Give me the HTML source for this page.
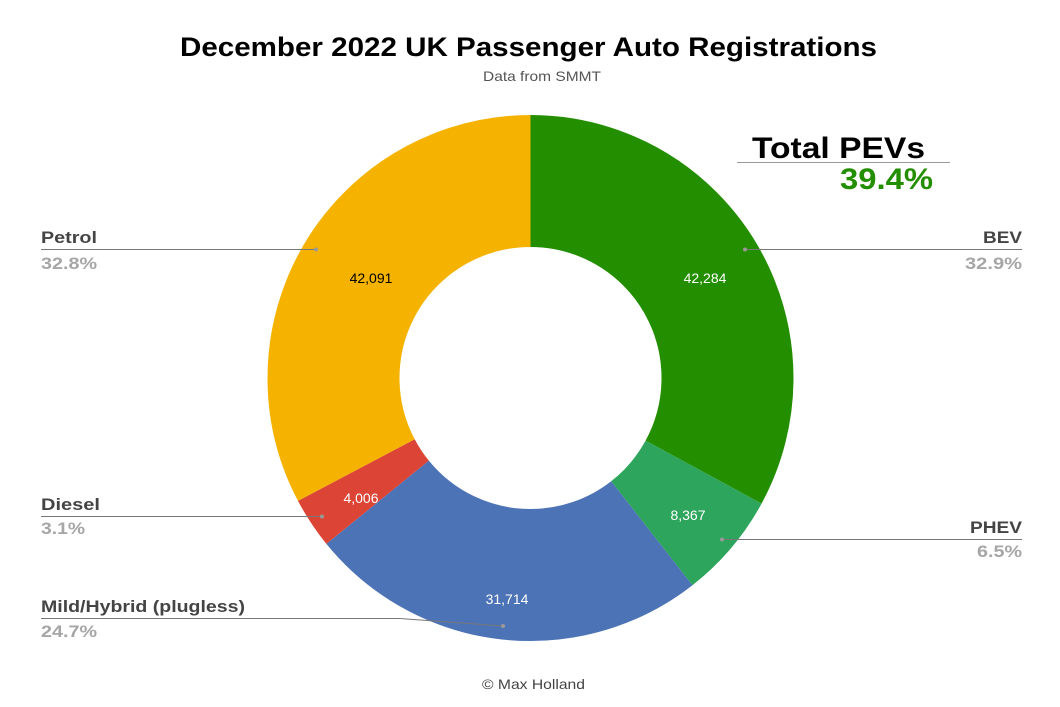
<!DOCTYPE html>
<html><head><style>
html,body{margin:0;padding:0;background:#fff;}
svg{display:block;font-family:"Liberation Sans",Arial,sans-serif;}
.n{font-weight:bold;font-size:17px;fill:#444;}
.p{font-weight:bold;font-size:17px;fill:#a6a6a6;}
.v{font-size:14px;fill:#fff;}
</style></head><body>
<svg width="1060" height="707" viewBox="0 0 1060 707">
<rect width="1060" height="707" fill="#fff"/>
<text x="180" y="56" font-size="27" font-weight="bold" fill="#000" textLength="697" lengthAdjust="spacingAndGlyphs">December 2022 UK Passenger Auto Registrations</text>
<text x="483" y="81" font-size="14" fill="#555" textLength="118" lengthAdjust="spacingAndGlyphs">Data from SMMT</text>
<g transform="rotate(-90 530.5 378)">
<circle cx="530.5" cy="378" r="197" fill="none" stroke="#238f00" stroke-width="132" stroke-dasharray="407.4 2000" stroke-dashoffset="0"/>
<circle cx="530.5" cy="378" r="197" fill="none" stroke="#2ea55c" stroke-width="132" stroke-dasharray="80.6 2000" stroke-dashoffset="-407.4"/>
<circle cx="530.5" cy="378" r="197" fill="none" stroke="#4c73b5" stroke-width="132" stroke-dasharray="305.6 2000" stroke-dashoffset="-488"/>
<circle cx="530.5" cy="378" r="197" fill="none" stroke="#dc4436" stroke-width="132" stroke-dasharray="38.6 2000" stroke-dashoffset="-793.6"/>
<circle cx="530.5" cy="378" r="197" fill="none" stroke="#f5b300" stroke-width="132" stroke-dasharray="405.6 2000" stroke-dashoffset="-832.2"/>
</g>
<text x="371" y="283" text-anchor="middle" font-size="14" fill="#000">42,091</text>
<text x="705" y="283" text-anchor="middle" class="v">42,284</text>
<text x="688" y="520" text-anchor="middle" class="v">8,367</text>
<text x="361" y="503" text-anchor="middle" class="v">4,006</text>
<text x="507" y="604" text-anchor="middle" class="v">31,714</text>
<g stroke="#777" stroke-width="1" fill="none">
<line x1="41" y1="249.5" x2="316" y2="249.5"/>
<line x1="41" y1="516.5" x2="322" y2="516.5"/>
<polyline points="41,618.5 400,618.5 503,626"/>
<line x1="745" y1="249.5" x2="1022" y2="249.5"/>
<line x1="722" y1="539.5" x2="1022" y2="539.5"/>
<line x1="737" y1="162.5" x2="950" y2="162.5" stroke="#999"/>
</g>
<g fill="#999"><circle cx="316" cy="249.5" r="2"/><circle cx="322" cy="516.5" r="2"/><circle cx="503" cy="626" r="2"/><circle cx="745" cy="249.5" r="2"/><circle cx="722" cy="539.5" r="2"/></g>
<text x="41" y="243" class="n" textLength="56" lengthAdjust="spacingAndGlyphs">Petrol</text><text x="41" y="269" class="p" textLength="56" lengthAdjust="spacingAndGlyphs">32.8%</text>
<text x="41" y="510" class="n" textLength="59" lengthAdjust="spacingAndGlyphs">Diesel</text><text x="41" y="534" class="p" textLength="44" lengthAdjust="spacingAndGlyphs">3.1%</text>
<text x="41" y="612" class="n" textLength="204" lengthAdjust="spacingAndGlyphs">Mild/Hybrid (plugless)</text><text x="41" y="637" class="p" textLength="56" lengthAdjust="spacingAndGlyphs">24.7%</text>
<text x="983" y="243" class="n" textLength="39" lengthAdjust="spacingAndGlyphs">BEV</text><text x="965" y="269" class="p" textLength="57" lengthAdjust="spacingAndGlyphs">32.9%</text>
<text x="970" y="533" class="n" textLength="52" lengthAdjust="spacingAndGlyphs">PHEV</text><text x="977" y="557" class="p" textLength="45" lengthAdjust="spacingAndGlyphs">6.5%</text>
<text x="752" y="158" font-size="30" font-weight="bold" fill="#000" textLength="173" lengthAdjust="spacingAndGlyphs">Total PEVs</text>
<text x="840" y="189" font-size="30" font-weight="bold" fill="#238f00" textLength="93" lengthAdjust="spacingAndGlyphs">39.4%</text>
<text x="482" y="689" font-size="14" fill="#444" textLength="103" lengthAdjust="spacingAndGlyphs">© Max Holland</text>
</svg>
</body></html>
